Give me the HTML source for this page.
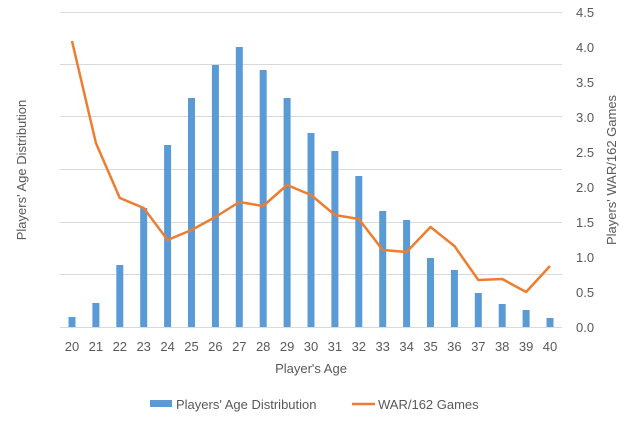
<!DOCTYPE html>
<html><head><style>body{margin:0;background:#fff}</style></head><body>
<svg width="630" height="419" xmlns="http://www.w3.org/2000/svg" font-family="Liberation Sans, sans-serif" fill="#595959">
<g stroke="#d9d9d9" stroke-width="1">
<line x1="60" x2="562" y1="12.5" y2="12.5"/><line x1="60" x2="562" y1="64.5" y2="64.5"/><line x1="60" x2="562" y1="116.5" y2="116.5"/><line x1="60" x2="562" y1="169.5" y2="169.5"/><line x1="60" x2="562" y1="222.5" y2="222.5"/><line x1="60" x2="562" y1="274.5" y2="274.5"/><line x1="60" x2="562" y1="327.5" y2="327.5"/>
</g>
<g fill="#5b9bd5">
<rect x="68.5" y="317" width="7" height="10"/><rect x="92.4" y="303" width="7" height="24"/><rect x="116.3" y="265" width="7" height="62"/><rect x="140.2" y="208" width="7" height="119"/><rect x="164.1" y="145" width="7" height="182"/><rect x="188" y="98" width="7" height="229"/><rect x="211.9" y="65" width="7" height="262"/><rect x="235.8" y="47" width="7" height="280"/><rect x="259.7" y="70" width="7" height="257"/><rect x="283.6" y="98" width="7" height="229"/><rect x="307.5" y="133" width="7" height="194"/><rect x="331.4" y="151" width="7" height="176"/><rect x="355.3" y="176" width="7" height="151"/><rect x="379.2" y="211" width="7" height="116"/><rect x="403.1" y="220" width="7" height="107"/><rect x="427" y="258" width="7" height="69"/><rect x="450.9" y="270" width="7" height="57"/><rect x="474.8" y="293" width="7" height="34"/><rect x="498.7" y="304" width="7" height="23"/><rect x="522.6" y="310" width="7" height="17"/><rect x="546.5" y="318" width="7" height="9"/>
</g>
<polyline fill="none" stroke="#ed7d31" stroke-width="2.5" stroke-linejoin="round" points="72,41 95.9,143 119.8,198 143.7,208 167.6,240 191.5,230 215.4,217 239.3,202 263.2,206 287.1,185 311,195 334.9,215 358.8,219 382.7,250 406.6,252 430.5,227 454.4,246 478.3,280 502.2,279 526.1,292 550,266"/>
<g font-size="13" text-anchor="middle">
<text x="72" y="351">20</text><text x="95.9" y="351">21</text><text x="119.8" y="351">22</text><text x="143.7" y="351">23</text><text x="167.6" y="351">24</text><text x="191.5" y="351">25</text><text x="215.4" y="351">26</text><text x="239.3" y="351">27</text><text x="263.2" y="351">28</text><text x="287.1" y="351">29</text><text x="311" y="351">30</text><text x="334.9" y="351">31</text><text x="358.8" y="351">32</text><text x="382.7" y="351">33</text><text x="406.6" y="351">34</text><text x="430.5" y="351">35</text><text x="454.4" y="351">36</text><text x="478.3" y="351">37</text><text x="502.2" y="351">38</text><text x="526.1" y="351">39</text><text x="550" y="351">40</text>
<text x="311" y="373">Player's Age</text>
</g>
<g font-size="13">
<text x="576" y="17">4.5</text><text x="576" y="52">4.0</text><text x="576" y="87">3.5</text><text x="576" y="122">3.0</text><text x="576" y="157">2.5</text><text x="576" y="192">2.0</text><text x="576" y="227">1.5</text><text x="576" y="262">1.0</text><text x="576" y="297">0.5</text><text x="576" y="332">0.0</text>
</g>
<text font-size="13" text-anchor="middle" transform="translate(26,170) rotate(-90)">Players' Age Distribution</text>
<text font-size="13" text-anchor="middle" transform="translate(616,170) rotate(-90)">Players' WAR/162 Games</text>
<rect x="150" y="400" width="22" height="7" fill="#5b9bd5"/>
<text x="176" y="409" font-size="13">Players' Age Distribution</text>
<line x1="352" x2="375" y1="404" y2="404" stroke="#ed7d31" stroke-width="2.5"/>
<text x="378" y="409" font-size="13">WAR/162 Games</text>
</svg>
</body></html>
